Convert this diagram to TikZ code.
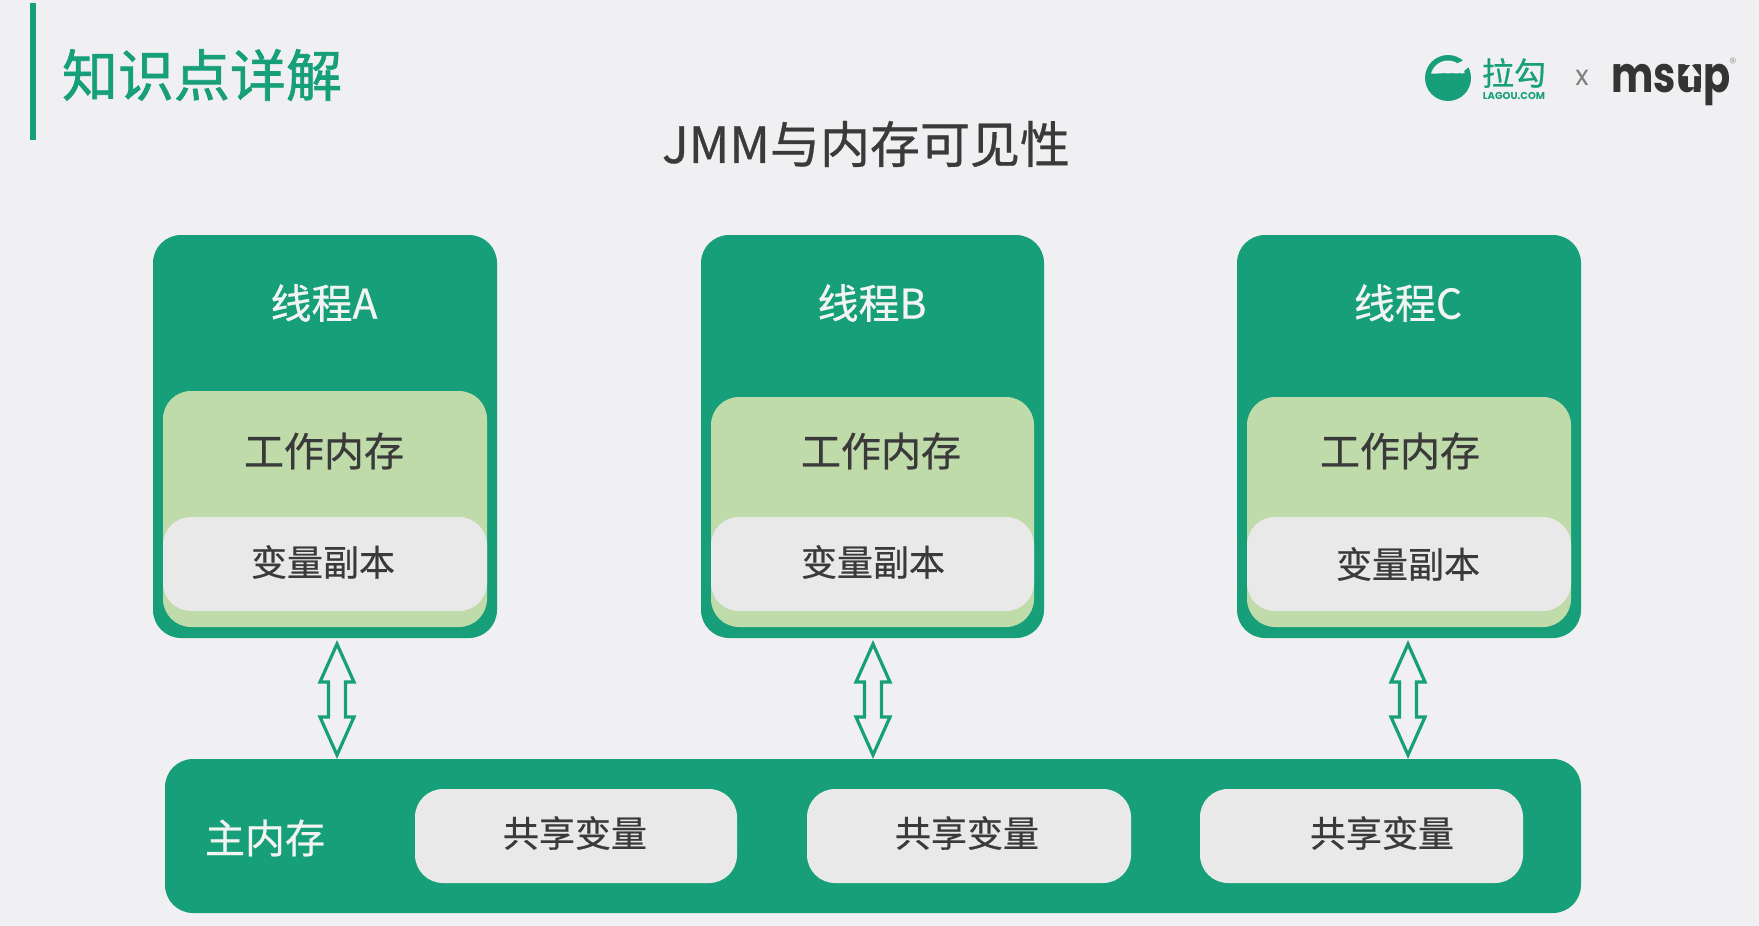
\documentclass[tikz,border=0pt]{standalone}
\usepackage{fontspec}
\setmainfont[FakeBold=0.6]{Noto Sans CJK SC}
\newfontfamily\titlefont[FakeBold=1.2]{Noto Sans CJK SC}
\newfontfamily\logofont{Poppins}
\definecolor{bgc}{HTML}{F0F0F2}
\definecolor{gr}{HTML}{169F78}
\definecolor{lgr}{HTML}{BFDBAA}
\definecolor{pale}{HTML}{E9E9EA}
\definecolor{ink}{HTML}{3A3A3A}
\definecolor{wht}{HTML}{F2F4F2}
\newcommand{\fs}[1]{\fontsize{#1}{#1}\selectfont}
\tikzset{
 x=1pt,y=-1pt,
 box/.style={fill=#1,draw=none,rounded corners=28pt},
 lab/.style={inner sep=0pt,text=ink,font=\fs{36}},
 wlab/.style={inner sep=0pt,text=wht,font=\fs{40}},
 arr/.style={draw=gr,line width=3.2pt,fill=bgc,line join=miter},
}
\newcommand{\thr}[8]{% name, left, right, innerTop, label, labelx, workx, copyy
 \fill[box=gr] (#2,235) rectangle (#3,638);
 \fill[box=lgr] ({#2+10},#4) rectangle ({#3-10},627);
 \fill[box=pale] ({#2+10},517) rectangle ({#3-10},611);
 \node[wlab,font=\fs{41}] (t#1) at (#6,303) {#5};
 \node[lab,font=\fs{40}] (w#1) at (#7,451) {工作内存};
 \node[lab] (c#1) at (#8) {变量副本};
}
\newcommand{\dbl}[2]{% name, center x
 \coordinate (a#1) at (#2,642);
 \draw[arr] (#2,644) -- ({#2+17},682) -- ({#2+8.5},682) -- ({#2+8.5},717) -- ({#2+17},717)
   -- (#2,755) -- ({#2-17},717) -- ({#2-8.5},717) -- ({#2-8.5},682) -- ({#2-17},682) -- cycle;
}
\newcommand{\shr}[5]{% name,left,right,cx
 \fill[box=pale] (#2,789) rectangle (#3,883);
 \node[lab] (s#1) at (#4,#5) {共享变量};
}
\begin{document}
\begin{tikzpicture}
\useasboundingbox (0,0) rectangle (1759,926);
\fill[bgc] (0,0) rectangle (1759,926);
% header
\fill[gr] (30,3) rectangle (36,140);
\node[inner sep=0pt,text=gr,font=\titlefont\fs{56}] (title) at (202,75) {知识点详解};
\node[inner sep=0pt,text=ink,font=\fs{50}] (sub) at (866,144) {JMM与内存可见性};
% logo lagou
\fill[gr] (1448,78) circle (23);
\begin{scope}
 \clip (1448,78) circle (17.5);
 \fill[bgc] (1425,58) -- (1471,58) -- (1471,72) -- (1462,73.5)
   .. controls (1459,71.5) and (1457,75) .. (1454,73.5)
   .. controls (1451,71.5) and (1449,75) .. (1446,73.5)
   .. controls (1443,71.5) and (1441,75) .. (1438,73.5)
   -- (1425,73.5) -- cycle;
\end{scope}
\fill[bgc] (1458,63) -- (1464,60) -- (1475,60) -- (1475,66) -- (1468,67.5) -- (1461,73.5) -- cycle;
\node[inner sep=0pt,text=gr,font=\fs{32}] (lg) at (1514,73) {拉勾};
\node[inner sep=0pt,text=gr,font=\logofont\fs{10}\bfseries] (lgc) at (1514,96) {LAGOU.COM};
\node[inner sep=0pt,text=gray,font=\logofont\fs{28}] (xx) at (1582,78) {x};
\node[inner sep=0pt,text=ink!90!black,font=\logofont\fs{50}\bfseries,xscale=0.8,anchor=base] (ms) at (1671,92) {msup};
\fill[ink!90!black] (1681,65) rectangle (1701,88);
\fill[bgc] (1691,64) -- (1700,76) -- (1694,76) -- (1694,87) -- (1688,87) -- (1688,76) -- (1682,76) -- cycle;
\node[inner sep=0pt,text=gray!70,font=\logofont\fs{15}] (reg) at (1733,63) {®};
% threads
\thr{A}{153}{497}{391}{线程A}{324}{324}{323,562}
\thr{B}{701}{1044}{397}{线程B}{872}{881}{873,562}
\thr{C}{1237}{1581}{397}{线程C}{1408}{1400}{1408,564}
% main memory
\fill[box=gr] (165,759) rectangle (1581,913);
\node[wlab] (mm) at (265,838) {主内存};
\shr{1}{415}{737}{575}{833}
\shr{2}{807}{1131}{967}{833}
\shr{3}{1200}{1523}{1382}{833}
% arrows
\dbl{A}{337}
\dbl{B}{873}
\dbl{C}{1408}
\end{tikzpicture}
\end{document}
